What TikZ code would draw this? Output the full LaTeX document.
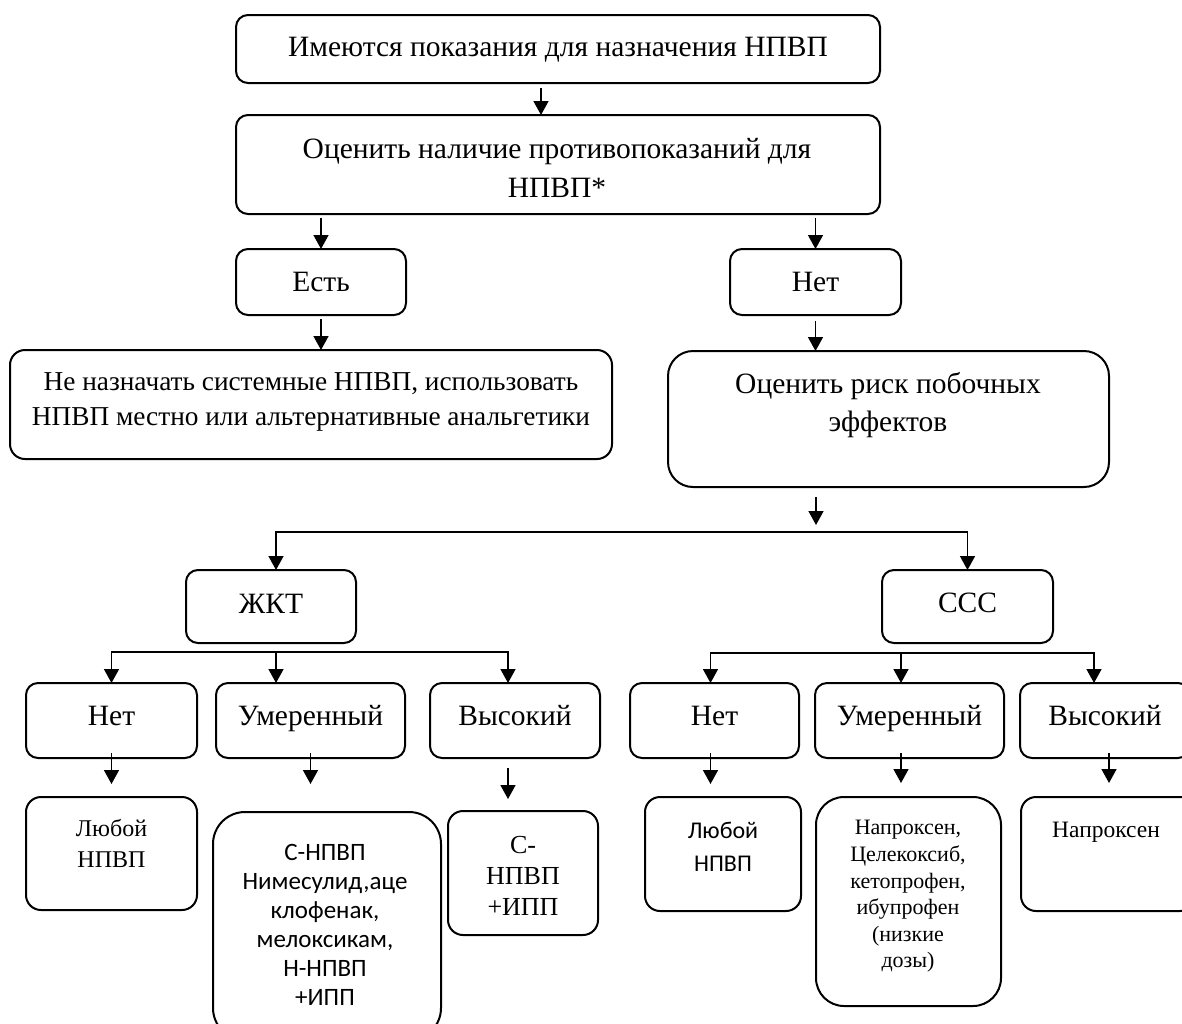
\documentclass[tikz,border=0pt]{standalone}
\usepackage{fontspec}
\setmainfont{Liberation Serif}
\newfontfamily\calfont{Carlito}
\usetikzlibrary{arrows.meta,calc}
\tikzset{
 box/.style={draw, line width=2pt, rounded corners=#1, inner sep=0pt, outer sep=0pt, anchor=north west},
 box/.default=12pt,
 txt/.style={align=center, inner sep=0pt, font=\fontsize{29.5}{38}\selectfont},
 one/.style={text height=19.5pt, text depth=0pt},
 arr/.style={line width=1.5pt, -{Triangle[length=14pt,width=15pt]}},
}
\newcommand\mybox[6][12pt]{\node[box=#1, minimum width={#4pt-#2pt}, minimum height={#5pt-#3pt}] (#6) at (#2,#3) {};}
\begin{document}
\begin{tikzpicture}[x=1pt,y=-1pt]
\useasboundingbox (0,0) rectangle (1182,1023);
% boxes
\mybox{236}{15}{880}{83}{b1}
\mybox{236}{115}{880}{214}{b2}
\mybox{236}{249}{406}{315}{est}
\mybox{730}{249}{901}{315}{net}
\mybox[15pt]{10}{350}{612}{459}{nz}
\mybox[25pt]{668}{351}{1109}{487}{ocr}
\mybox{186}{570}{356}{643}{jkt}
\mybox{882}{570}{1053}{643}{ccc}
\mybox{26}{683}{197}{758}{jn}
\mybox{216}{683}{405}{758}{ju}
\mybox{430}{683}{600}{758}{jv}
\mybox{630}{683}{799}{758}{cn}
\mybox{815}{683}{1004}{758}{cu}
\mybox{1020}{683}{1190}{758}{cv}
\mybox[15pt]{26}{797}{197}{910}{jn2}
\mybox[32pt]{213}{812}{441}{1040}{ju2}
\mybox[15pt]{448}{811}{598}{935}{jv2}
\mybox[15pt]{645}{797}{801}{911}{cn2}
\mybox[28pt]{816}{797}{1001}{1006}{cu2}
\mybox[15pt]{1021}{797}{1195}{911}{cv2}
% texts
\node[txt,one] (t-b1) at (558,47) {Имеются показания для назначения НПВП};
\node[txt,font=\fontsize{29.5}{39}\selectfont] (t-b2) at (557,167.5) {Оценить наличие противопоказаний для\\НПВП*};
\node[txt,one] (t-est) at (321,282) {Есть};
\node[txt,one] (t-net) at (815.5,282) {Нет};
\node[txt,font=\fontsize{27.3}{35}\selectfont] (t-nz) at (311,401.5) {Не назначать системные НПВП, использовать\\НПВП местно или альтернативные анальгетики};
\node[txt] (t-ocr) at (888,405) {Оценить риск побочных\\эффектов};
\node[txt,one] (t-jkt) at (271,604) {ЖКТ};
\node[txt,one] (t-ccc) at (967.5,603) {ССС};
\node[txt,one] (t-jn) at (111.5,716) {Нет};
\node[txt,one] (t-ju) at (310.5,716) {Умеренный};
\node[txt,one] (t-jv) at (515,716) {Высокий};
\node[txt,one] (t-cn) at (714.5,716) {Нет};
\node[txt,one] (t-cu) at (909.5,716) {Умеренный};
\node[txt,one] (t-cv) at (1105,716) {Высокий};
\node[txt,font=\fontsize{24}{31}\selectfont] (t-jn2) at (111.5,843.5) {Любой\\НПВП};
\node[txt,font={\calfont\fontsize{25}{29}\selectfont}] (t-ju2) at (325,924.5) {С-НПВП\\Нимесулид,аце\\клофенак,\\мелоксикам,\\Н-НПВП\\+ИПП};
\node[txt,font=\fontsize{26}{31}\selectfont] (t-jv2) at (523,876) {С-\\НПВП\\+ИПП};
\node[txt,font={\calfont\fontsize{24}{33}\selectfont}] (t-cn2) at (723,846.5) {Любой\\НПВП};
\node[txt,font=\fontsize{22}{26.6}\selectfont] (t-cu2) at (908,896.5) {Напроксен,\\Целекоксиб,\\кетопрофен,\\ибупрофен\\(низкие\\дозы)};
\node[txt,font=\fontsize{23.5}{28}\selectfont,text height=15.5pt,text depth=0pt] (t-cv2) at (1106,830) {Напроксен};
% arrows
\draw[arr] ($(b1.south)+(-17,5)$) -- ($(b2.north)+(-17,0)$);
\draw[arr] ($(b2.south -| est.north)+(0,4)$) -- (est.north);
\draw[arr] ($(b2.south -| net.north)+(0,4)$) -- (net.north);
\draw[arr] ($(est.south)+(0,4)$) -- (est.south |- nz.north);
\draw[arr] ($(net.south)+(0,6)$) -- (net.south |- ocr.north);
\coordinate (br1) at (816,532);
\draw[arr] ($(ocr.south -| br1)+(0,10)$) -- ($(br1)+(0,-7)$);
\draw[arr] (br1) -| ($(jkt.north)+(5,0)$);
\draw[arr] (br1) -| (ccc.north);
\coordinate (br2) at (276,652);
\draw[arr] (br2) -| (jn.north);
\draw[arr] (br2) -- (ju.north -| br2);
\draw[arr] (br2) -| ($(jv.north)+(-7,0)$);
\coordinate (br3) at (967,653);
\draw[arr] (br3) -| ($(cn.north)+(-4,0)$);
\draw[arr] (br3) -| ($(cu.north)+(-8.5,0)$);
\draw[arr] (br3) -| ($(cv.north)+(-11,0)$);
\draw[arr,shorten >=13pt] ($(jn.south)+(0,-5)$) -- (jn.south |- jn2.north);
\draw[arr,shorten >=28pt] ($(ju.south)+(0,-5)$) -- (ju.south |- ju2.north);
\draw[arr,shorten >=12pt] ($(jv.south)+(-7,10)$) -- ($(jv.south |- jv2.north)+(-7,0)$);
\draw[arr,shorten >=13pt] ($(cn.south)+(-4,-5)$) -- ($(cn.south |- cn2.north)+(-4,0)$);
\draw[arr,shorten >=14pt] ($(cu.south)+(-8.5,-5)$) -- ($(cu.south |- cu2.north)+(-8.5,0)$);
\draw[arr,shorten >=14pt] ($(cv.south)+(4,-5)$) -- ($(cv.south |- cv2.north)+(4,0)$);
\end{tikzpicture}
\end{document}
